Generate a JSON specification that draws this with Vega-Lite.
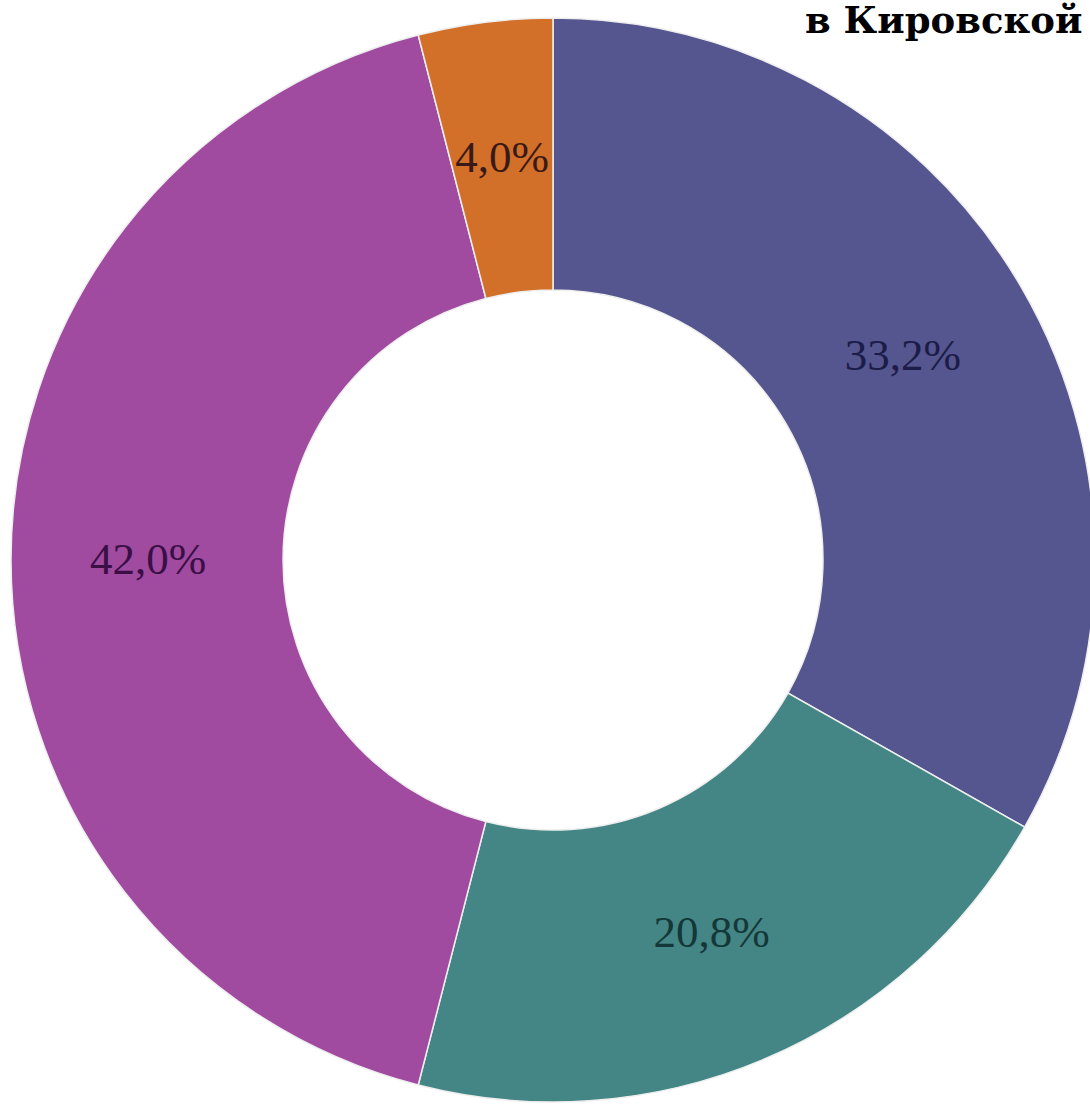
{
  "$schema": "https://vega.github.io/schema/vega-lite/v6.json",
  "width": 1074,
  "height": 1110,
  "autosize": {"type": "none"},
  "padding": {"left": 16, "top": 5, "right": 0, "bottom": 0},
  "background": "white",
  "title": {
    "text": "в Кировской области",
    "anchor": "start",
    "frame": "group",
    "orient": "top",
    "baseline": "alphabetic",
    "dx": 789,
    "dy": 69,
    "font": "DejaVu Serif",
    "fontWeight": "bold",
    "fontSize": 37,
    "color": "#000000"
  },
  "data": {
    "values": [
      {"k": "a", "order": 1, "value": 33.2, "label": "33,2%"},
      {"k": "b", "order": 2, "value": 20.8, "label": "20,8%"},
      {"k": "c", "order": 3, "value": 42.0, "label": "42,0%"},
      {"k": "d", "order": 4, "value": 4.0, "label": "4,0%"}
    ]
  },
  "encoding": {
    "theta": {"field": "value", "type": "quantitative", "stack": true},
    "order": {"field": "order", "type": "quantitative"}
  },
  "layer": [
    {
      "mark": {"type": "arc", "outerRadius": 542, "innerRadius": 270, "stroke": "#eeeeee", "strokeWidth": 1.5},
      "encoding": {
        "color": {
          "field": "k",
          "type": "nominal",
          "scale": {"domain": ["a", "b", "c", "d"], "range": ["#55558f", "#448585", "#a04aa0", "#d2702a"]},
          "legend": null
        }
      }
    },
    {
      "mark": {"type": "text", "radius": 405, "font": "Liberation Serif", "fontSize": 45, "align": "center", "baseline": "middle"},
      "encoding": {
        "text": {"field": "label"},
        "color": {
          "field": "k",
          "type": "nominal",
          "scale": {"domain": ["a", "b", "c", "d"], "range": ["#1c1c48", "#143838", "#3a0f45", "#3a1a18"]},
          "legend": null
        }
      }
    }
  ],
  "resolve": {"scale": {"color": "independent"}}
}
